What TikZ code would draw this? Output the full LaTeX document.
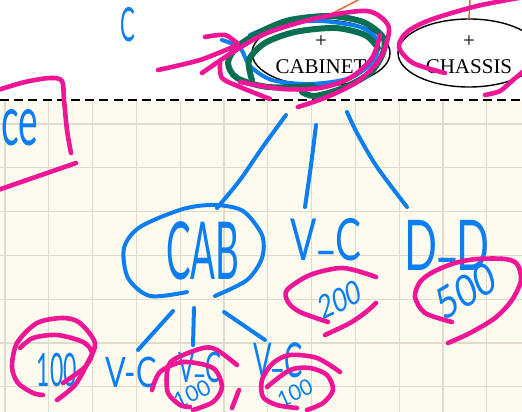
\documentclass[tikz,border=0pt]{standalone}
\usepackage{fontspec}
\usetikzlibrary{shapes.geometric}
\newfontfamily\partfont{Liberation Serif}
\newfontfamily\handfont{Lato}
\definecolor{paper}{RGB}{253,251,238}
\definecolor{gridline}{RGB}{224,219,203}
\definecolor{penblue}{RGB}{12,126,242}
\definecolor{penpink}{RGB}{238,22,150}
\definecolor{pengreen}{RGB}{8,112,82}
\definecolor{linkorange}{RGB}{222,104,64}
\newcommand{\us}{\raisebox{.25em}{\_}}
\begin{document}
\begin{tikzpicture}[x=1pt,y=-1pt,
  pen/.style={line cap=round,line join=round},
  bluepen/.style={pen,draw=penblue,line width=4pt},
  pinkpen/.style={pen,draw=penpink,line width=4.6pt},
  greenpen/.style={pen,draw=pengreen,line width=6pt},
  hw/.style={text=penblue,inner sep=0pt,anchor=center,font=\handfont},
  part/.style={ellipse,draw=black,line width=1.4pt,inner sep=0pt},
  parttext/.style={inner sep=0pt,anchor=center,font=\partfont\fontsize{21pt}{21pt}\selectfont},
  link/.style={draw=linkorange,line width=1.5pt}]
\useasboundingbox (0,0) rectangle (522,412);
\clip (0,0) rectangle (522,412);
\fill[white] (0,0) rectangle (522,100);
\fill[paper] (0,100) rectangle (522,412);
% squared paper
\foreach \i in {0,...,11} \draw[gridline,line width=1.2pt] (5+43.8*\i,100) -- (5+43.8*\i,412);
\foreach \j in {0,...,6} \draw[gridline,line width=1.2pt] (0,124+43.8*\j) -- (522,124+43.8*\j);
\draw[black,line width=2pt,dash pattern=on 9pt off 5.2pt] (0,100) -- (522,100);

% part ellipses
\node[part,minimum width=138pt,minimum height=66pt] (cabinet) at (321,53) {};
\node[part,minimum width=142pt,minimum height=68pt] (chassis) at (469,53) {};
\node[parttext] (cabplus) at (321,42) {+};
\node[parttext] (cablabel) at (321,66.5) {CABINET};
\node[parttext] (chplus) at (469,42) {+};
\node[parttext] (chlabel) at (469,66.5) {CHASSIS};
\coordinate (cabparent) at (360,-1);
\coordinate (chparent) at (470,-1);
\draw[link] (cabinet.north) -- (cabparent);
\draw[link] (chassis.north) -- (chparent);

% handwritten labels
\node[hw,xscale=0.47] (hc) at (128,25) {\fontsize{47pt}{47pt}\selectfont C};
\node[hw,xscale=0.53,anchor=west] (hce) at (1,128) {\fontsize{70pt}{70pt}\selectfont ce};
\node[hw,xscale=0.46] (cab) at (203,251) {\fontsize{80pt}{80pt}\selectfont CAB};
\node[hw,xscale=0.67] (vc) at (326,240) {\fontsize{58pt}{58pt}\selectfont V\us C};
\node[hw,xscale=0.62] (dd) at (447,245) {\fontsize{70pt}{70pt}\selectfont D\us D};
\node[hw,xscale=0.75,rotate=20] (n200) at (340,300) {\fontsize{33pt}{33pt}\selectfont 200};
\node[hw,xscale=0.8,rotate=25] (n500) at (466,291) {\fontsize{44pt}{44pt}\selectfont 500};
\node[hw,xscale=0.5] (na) at (57,370) {\fontsize{46pt}{46pt}\selectfont 100};
\node[hw,xscale=0.73] (vca) at (131,372) {\fontsize{42pt}{42pt}\selectfont V-C};
\node[hw,xscale=0.57] (vcb) at (200,367) {\fontsize{42pt}{42pt}\selectfont V\us C};
\node[hw,rotate=25] (nb) at (192,394) {\fontsize{22pt}{22pt}\selectfont 100};
\node[hw,xscale=0.57] (vcc) at (278,360) {\fontsize{48pt}{48pt}\selectfont V\us C};
\node[hw,xscale=0.95,rotate=25] (nc) at (295,393) {\fontsize{22pt}{22pt}\selectfont 100};

% blue strokes
\draw[bluepen] plot[smooth] coordinates {(222,40) (240,48) (250,66) (272,80) (310,84) (350,78) (374,60) (377,40) (360,27) (320,21) (280,24) (250,35)};
\draw[bluepen] plot[smooth] coordinates {(286,115) (262,148) (240,180) (217,208)};
\draw[bluepen] plot[smooth] coordinates {(316,125) (311,165) (305,207)};
\draw[bluepen] plot[smooth] coordinates {(347,112) (357,133) (377,167) (407,207)};
\draw[bluepen] plot[smooth] coordinates {(187,292) (150,296) (128,278) (124,248) (140,227) (183,209) (215,205) (243,211) (262,235) (262,258) (247,280) (215,296)};
\draw[bluepen] (173,311) -- (138,350);
\draw[bluepen] (194,308) -- (193,345);
\draw[bluepen] (224,312) -- (265,340);

% green strokes
\draw[greenpen] plot[smooth] coordinates {(313,86) (268,87) (237,78) (228,63) (237,47) (260,32) (290,20) (330,16) (363,22) (383,37) (383,53) (370,73) (343,88) (315,96) (302,92)};
\draw[greenpen] plot[smooth] coordinates {(252,80) (249,60) (265,43) (295,32) (335,28) (365,35) (378,48)};

% pink strokes
\draw[pinkpen] plot[smooth] coordinates {(158,70) (200,60) (235,46)};
\draw[pinkpen] plot[smooth] coordinates {(205,37) (225,35) (238,44)};
\draw[pinkpen] plot[smooth] coordinates {(202,73) (233,52) (267,33) (317,18) (367,11) (388,25) (386,45) (377,63) (357,82) (327,97) (298,107)};
\draw[pinkpen] plot[smooth] coordinates {(220,63) (222,78) (240,87) (270,99)};
\draw[pinkpen] plot[smooth] coordinates {(240,82) (283,89) (320,88) (350,78) (372,58) (380,35)};
\draw[pinkpen] plot[smooth] coordinates {(445,73) (413,63) (399,47) (407,32) (430,20) (473,7) (507,0) (525,-3)};
\draw[pinkpen] plot[smooth] coordinates {(485,95) (500,91) (513,80) (525,70)};
\draw[pinkpen] plot[smooth] coordinates {(-2,90) (25,82) (50,78) (62,81) (64,100) (67,130) (71,153)};
\draw[pinkpen] (76,163) -- (-2,190);
\draw[pinkpen] plot[smooth] coordinates {(376,277) (343,268) (310,275) (287,290) (288,302) (300,312) (328,322)};
\draw[pinkpen] plot[smooth] coordinates {(325,335) (350,323) (366,312) (376,303)};
\draw[pinkpen] plot[smooth] coordinates {(452,322) (425,313) (415,297) (420,282) (433,272) (455,263) (477,259) (505,259) (517,264) (521,280) (512,300) (495,318) (470,333) (448,343)};
\draw[pinkpen] plot[smooth] coordinates {(57,400) (75,385) (88,362) (95,343) (80,323) (63,318) (37,323) (17,343) (12,367) (18,383) (33,393) (43,395)};
\draw[pinkpen] plot[smooth] coordinates {(20,348) (33,338) (57,335) (83,342) (92,353) (85,367) (63,383)};
\draw[pinkpen] plot[smooth] coordinates {(237,365) (217,350) (203,348) (173,360) (167,373) (168,393) (180,405) (190,407)};
\draw[pinkpen] plot[smooth] coordinates {(152,390) (160,372) (183,362) (213,368) (222,387) (213,402) (193,410)};
\draw[pinkpen] (239,390) -- (232,408);
\draw[pinkpen] plot[smooth] coordinates {(340,372) (317,358) (290,355) (273,363) (262,380) (263,397) (277,405) (297,408)};
\draw[pinkpen] plot[smooth] coordinates {(267,387) (290,370) (310,368) (327,375) (333,390) (323,403) (307,410)};
\end{tikzpicture}
\end{document}
